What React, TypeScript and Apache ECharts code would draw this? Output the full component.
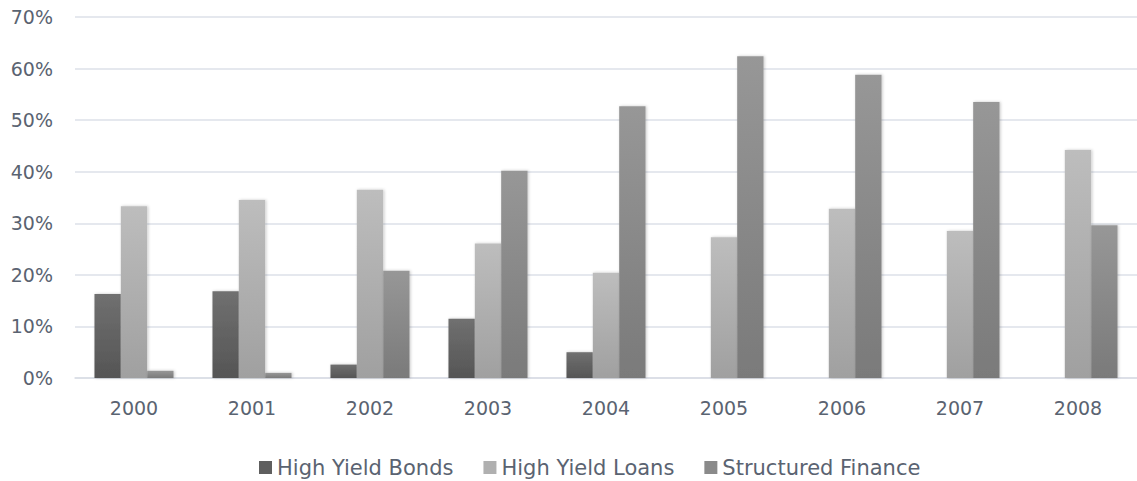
import React, { useEffect, useRef } from "react";
import * as echarts from "echarts";

const years = ["2000", "2001", "2002", "2003", "2004", "2005", "2006", "2007", "2008"];
const highYieldBonds = [16.3, 16.8, 2.6, 11.5, 5.0, 0, 0, 0, 0];
const highYieldLoans = [33.3, 34.5, 36.5, 26.1, 20.4, 27.3, 32.8, 28.5, 44.2];
const structuredFinance = [1.4, 1.0, 20.8, 40.2, 52.7, 62.4, 58.8, 53.5, 29.6];

const textColor = "#5a6371";
const font = "DejaVu Sans";

function grad(top: string, bottom: string) {
  return new echarts.graphic.LinearGradient(0, 0, 0, 1, [
    { offset: 0, color: top },
    { offset: 1, color: bottom },
  ]);
}

export default function App() {
  const ref = useRef<HTMLDivElement>(null);
  useEffect(() => {
    if (!ref.current) return;
    const chart = echarts.init(ref.current, undefined, { renderer: "svg" });
    const barShadow = {
      shadowBlur: 3,
      shadowColor: "rgba(0,0,0,0.22)",
      shadowOffsetX: 1,
      shadowOffsetY: 0,
    };
    chart.setOption({
      animation: false,
      backgroundColor: "#ffffff",
      grid: { left: 75, top: 17, width: 1066, height: 361, containLabel: false },
      legend: {
        left: 254,
        top: 452,
        itemWidth: 13,
        itemHeight: 13,
        itemGap: 30,
        icon: "rect",
        textStyle: { color: textColor, fontFamily: font, fontSize: 21 },
        data: [
          { name: "High Yield Bonds", itemStyle: { color: "#5f5f5f" } },
          { name: "High Yield Loans", itemStyle: { color: "#b0b0b0" } },
          { name: "Structured Finance", itemStyle: { color: "#8a8a8a" } },
        ],
      },
      xAxis: {
        type: "category",
        data: years,
        axisLine: { show: true, lineStyle: { color: "#d9dde5", width: 1.5 } },
        axisTick: { show: false },
        axisLabel: { color: textColor, fontFamily: font, fontSize: 19, margin: 20 },
      },
      yAxis: {
        type: "value",
        min: 0,
        max: 70,
        interval: 10,
        axisLine: { show: false },
        axisTick: { show: false },
        axisLabel: {
          formatter: "{value}%",
          color: textColor,
          fontFamily: font,
          fontSize: 19,
          margin: 22,
        },
        splitLine: { lineStyle: { color: "#dde1e9", width: 1.5 } },
      },
      series: [
        {
          name: "High Yield Bonds",
          type: "bar",
          data: highYieldBonds,
          barGap: "0%",
          barCategoryGap: "33%",
          itemStyle: { color: grad("#707070", "#555555"), ...barShadow },
        },
        {
          name: "High Yield Loans",
          type: "bar",
          data: highYieldLoans,
          barGap: "0%",
          barCategoryGap: "33%",
          itemStyle: { color: grad("#bdbdbd", "#a0a0a0"), ...barShadow },
        },
        {
          name: "Structured Finance",
          type: "bar",
          data: structuredFinance,
          barGap: "0%",
          barCategoryGap: "33%",
          itemStyle: { color: grad("#979797", "#7a7a7a"), ...barShadow },
        },
      ],
    });
    return () => chart.dispose();
  }, []);
  return (
    <div
      ref={ref}
      style={{ position: "absolute", left: 0, top: 0, width: 1137, height: 481 }}
    />
  );
}
